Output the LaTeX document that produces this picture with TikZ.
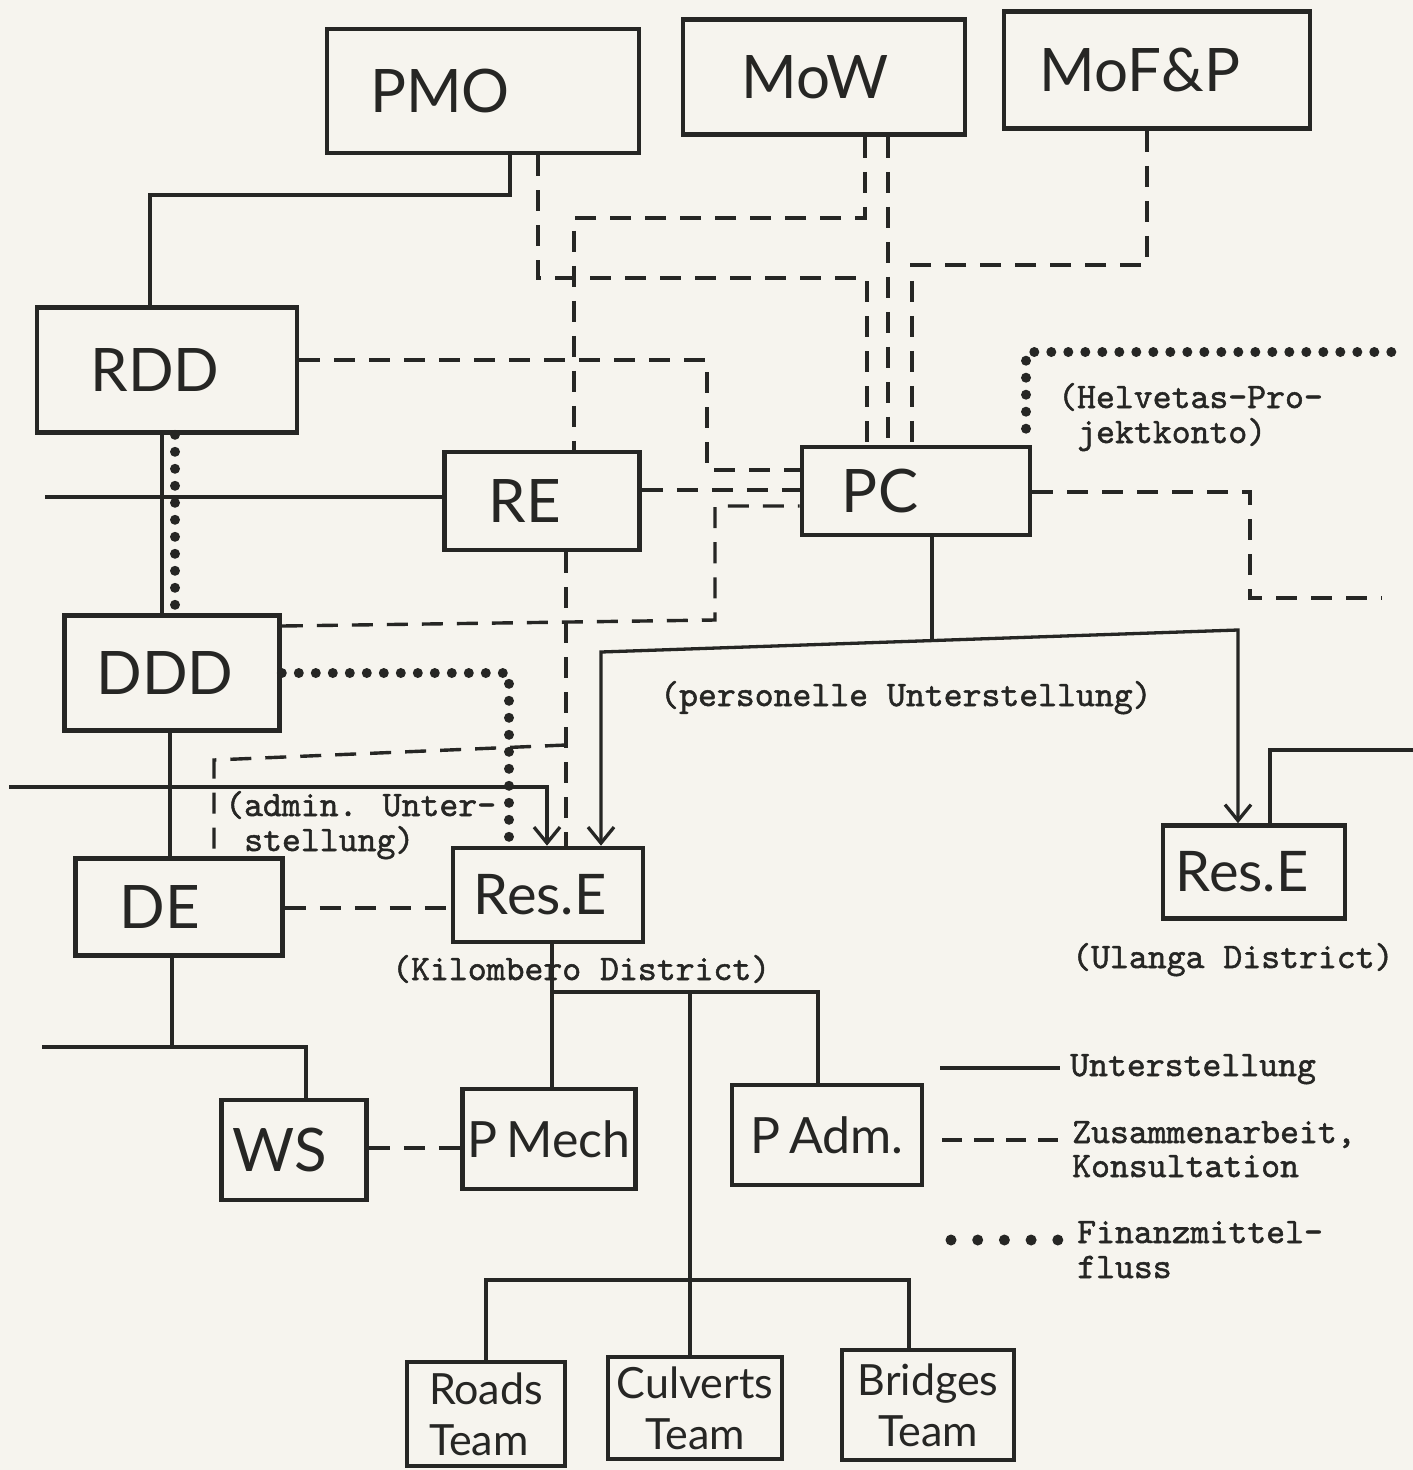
\documentclass[tikz,border=0pt]{standalone}
\usepackage{fontspec}
\usetikzlibrary{arrows.meta}
\newfontfamily\hand{Lato}
\newfontfamily\tw{lmmono10-regular.otf}[FakeBold=1.4]
\definecolor{paper}{RGB}{246,244,238}
\definecolor{ink}{RGB}{38,38,36}
\begin{document}
\begin{tikzpicture}[x=1pt,y=-1pt,
  box/.style={draw=ink, line width=4.6pt, inner sep=0pt, text=ink,
    font=\hand\fontsize{60}{60}\selectfont},
  team/.style={box, align=center, font=\hand\fontsize{43}{51}\selectfont},
  tt/.style={anchor=base west, inner sep=0pt, text=ink,
    font=\tw\fontsize{36}{36}\selectfont},
  uline/.style={draw=ink, line width=3.3pt},
  cline/.style={draw=ink, line width=3.4pt, dash pattern=on 21pt off 14pt},
  fline/.style={draw=ink, line width=10pt, line cap=round, dash pattern=on 0pt off 17pt},
  arr/.style={-{Straight Barb[length=16pt,width=26pt]}},
  arrboth/.style={{Straight Barb[length=16pt,width=26pt]}-{Straight Barb[length=16pt,width=26pt]}}
]
\fill[paper] (0,0) rectangle (1413,1470);
\useasboundingbox (0,0) rectangle (1413,1470);

% ---------- boxes ----------
\node[box, minimum width=312pt, minimum height=124pt] (pmo) at (483,91) {PMO\hspace*{86pt}};
\node[box, minimum width=282pt, minimum height=115pt] (mow) at (824,77) {MoW\hspace*{18pt}};
\node[box, minimum width=306pt, minimum height=117pt] (mofp) at (1157,70) {MoF\&P\hspace*{34pt}};
\node[box, minimum width=260pt, minimum height=125pt] (rdd) at (167,370) {RDD\hspace*{24pt}};
\node[box, minimum width=195pt, minimum height=98pt] (re) at (542,501) {RE\hspace*{34pt}};
\node[box, minimum width=228pt, minimum height=88pt] (pc) at (916,491) {PC\hspace*{72pt}};
\node[box, minimum width=215pt, minimum height=115pt] (ddd) at (172,673) {DDD\hspace*{14pt}};
\node[box, minimum width=207pt, minimum height=97pt] (de) at (179,907) {DE\hspace*{38pt}};
\node[box, minimum width=190pt, minimum height=94pt, font=\hand\fontsize{56}{56}\selectfont] (resk) at (548,895) {Res.E\hspace*{16pt}};
\node[box, minimum width=182pt, minimum height=93pt, font=\hand\fontsize{56}{56}\selectfont] (resu) at (1254,872) {Res.E\hspace*{24pt}};
\node[box, minimum width=145pt, minimum height=100pt] (ws) at (294,1150) {WS\hspace*{28pt}};
\node[box, minimum width=173pt, minimum height=100pt, font=\hand\fontsize{50}{50}\selectfont] (pmech) at (549,1139) {P\,Mech};
\node[box, minimum width=190pt, minimum height=100pt, font=\hand\fontsize{50}{50}\selectfont] (padm) at (827,1135) {P\,Adm.};
\node[team, minimum width=158pt, minimum height=104pt, align=left] (roads) at (486,1414) {Roads\\Team};
\node[team, minimum width=174pt, minimum height=102pt] (culv) at (695,1408) {Culverts\\Team};
\node[team, minimum width=172pt, minimum height=110pt] (bridges) at (928,1405) {Bridges\\Team};

% ---------- texts ----------
\node[tt] (thelv1) at (1058,408) {(Helvetas-Pro-};
\node[tt] (thelv2) at (1077,443) {jektkonto)};
\node[tt] (tpers) at (660,706) {(personelle Unterstellung)};
\node[tt] (tadm1) at (225,816) {(admin. Unter-};
\node[tt] (tadm2) at (244,851) {stellung)};
\node[tt] (tkil) at (392,980) {(Kilombero District)};
\node[tt] (tula) at (1072,968) {(Ulanga District)};
\node[tt] (tl1) at (1070,1076) {Unterstellung};
\node[tt] (tl2a) at (1072,1143) {Zusammenarbeit,};
\node[tt] (tl2b) at (1072,1177) {Konsultation};
\node[tt] (tl3a) at (1077,1243) {Finanzmittel-};
\node[tt] (tl3b) at (1077,1278) {fluss};

% ---------- free ends ----------
\coordinate (reL) at (45,497);
\coordinate (longL) at (9,787);
\coordinate (resuR) at (1413,750);
\coordinate (pcR) at (1382,598);
\coordinate (helvR) at (1392,352);
\coordinate (deL) at (42,1047);

% ---------- Unterstellung (solid) ----------
\draw[uline] (pmo.south -| 510,0) |- (150,195) -- (rdd.north -| 150,0);
\draw[uline] (rdd.south -| 162,0) -- (ddd.north -| 162,0);
\draw[uline] (re.west |- 0,497) -- (reL);
\draw[uline] (ddd.south -| 170,0) -- (de.north -| 170,0);
\draw[uline, arr] (longL) -| (resk.north -| 547,0);
\draw[uline] (pc.south -| 932,0) -- (932,641);
\draw[uline, arrboth] (resk.north -| 601,0) -- (601,652) -- (1238,630) -- (resu.north -| 1238,0);
\draw[uline] (resu.north -| 1270,0) |- (resuR);
\draw[uline] (de.south -| 172,0) -- (172,1047);
\draw[uline] (deL) -| (ws.north -| 306,0);
\draw[uline] (resk.south -| 552,0) -- (pmech.north -| 552,0);
\draw[uline] (552,992) -| (padm.north -| 818,0);
\draw[uline] (690,992) -- (culv.north -| 690,0);
\draw[uline] (roads.north -| 486,0) |- (909,1280) -- (bridges.north -| 909,0);

% ---------- Zusammenarbeit (dashed) ----------
\draw[cline] (pmo.south -| 538,0) |- (867,278) -- (pc.north -| 867,0);
\draw[cline] (mow.south -| 865,0) |- (574,218) -- (re.north -| 574,0);
\draw[cline] (mow.south -| 888,0) -- (pc.north -| 888,0);
\draw[cline] (mofp.south -| 1147,0) |- (912,265) -- (pc.north -| 912,0);
\draw[cline] (rdd.east |- 0,360) -| (707,470) -- (pc.west |- 0,470);
\draw[cline] (re.east |- 0,490) -- (pc.west |- 0,490);
\draw[cline] (ddd.east |- 0,626) -- (715,620) -- (715,506) -- (pc.west |- 0,506);
\draw[cline] (re.south -| 566,0) -- (resk.north -| 566,0);
\draw[cline] (566,745) -- (214,760) -- (de.north -| 214,0);
\draw[cline] (pc.east |- 0,492) -| (1250,598) -- (pcR);
\draw[cline] (de.east |- 0,908) -- (resk.west |- 0,908);
\draw[cline] (ws.east |- 0,1148) -- (pmech.west |- 0,1148);

% ---------- Finanzmittelfluss (dotted) ----------
\draw[fline] (rdd.south -| 175,0) -- (ddd.north -| 175,0);
\draw[fline] (ddd.east |- 0,673) -| (resk.north -| 509,0);
\draw[fline] (pc.north -| 1026,0) ++(0,-16) |- (helvR);

% ---------- legend ----------
\coordinate (lu1) at (940,1068); \coordinate (lu2) at (1060,1068);
\draw[uline] (lu1) -- (lu2);
\coordinate (lc1) at (942,1140); \coordinate (lc2) at (1062,1140);
\draw[cline, dash pattern=on 20pt off 12pt] (lc1) -- (lc2);
\coordinate (lf1) at (951,1240); \coordinate (lf2) at (1058,1240);
\draw[fline, line width=11pt, dash pattern=on 0pt off 26.7pt] (lf1) -- (lf2);
\end{tikzpicture}
\end{document}
